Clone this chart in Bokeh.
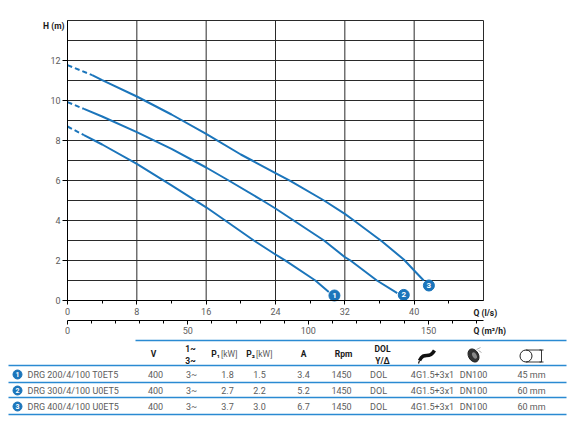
from bokeh.plotting import figure
from bokeh.models import Range1d, LinearAxis, FixedTicker, ColumnDataSource
from bokeh.core.properties import value
from bokeh.embed import file_html
from bokeh.resources import INLINE

# ---------------- data ----------------
q1 = [0, 1.9, 4, 8, 12, 16, 18.2, 21.5, 24, 25.2, 28.6, 30.15]
h1 = [8.7, 8.27, 7.8, 6.83, 5.76, 4.66, 4.0, 3.0, 2.3, 1.98, 1.0, 0.42]
q2 = [0, 1.9, 4, 8, 12, 16, 18.6, 22.5, 24, 26.1, 29.6, 32, 32.65, 35.7, 38.05]
h2 = [9.92, 9.58, 9.2, 8.42, 7.58, 6.65, 6.0, 5.0, 4.6, 4.0, 3.0, 2.17, 2.0, 1.0, 0.37]
q3 = [0, 2.85, 4, 8, 12, 16, 20, 21.3, 24, 25.7, 29.6, 32, 33.05, 36.3, 38.8, 40, 41.1]
h3 = [11.77, 11.27, 11.02, 10.2, 9.3, 8.33, 7.3, 7.0, 6.37, 5.98, 5.0, 4.33, 4.0, 2.95, 2.05, 1.5, 1.0]
dash_until = [1.9, 1.9, 2.85]

marker_q = [30.8, 38.8, 41.7]
marker_h = [0.25, 0.28, 0.75]
marker_txt = ["1", "2", "3"]

q_max = 48
h_max = 14
y_ticks = [0, 2, 4, 6, 8, 10, 12]
x_ticks = [0, 8, 16, 24, 32, 40]
x_minor = [4, 12, 20, 28, 36, 44]
grid_q = [0, 8, 16, 24, 32, 40, 48]
grid_h = list(range(15))
m3h_ticks = [0, 50, 100, 150]
m3h_minor = [10, 20, 30, 40, 60, 70, 80, 90, 110, 120, 130, 140, 160, 170]
LS_TO_M3H = 3.6

models = ["DRG 200/4/100 T0ET5", "DRG 300/4/100 U0ET5", "DRG 400/4/100 U0ET5"]
volts = ["400", "400", "400"]
phase = ["3~", "3~", "3~"]
p1 = ["1.8", "2.7", "3.7"]
p2 = ["1.5", "2.2", "3.0"]
amps = ["3.4", "5.2", "6.7"]
rpm = ["1450", "1450", "1450"]
start = ["DOL", "DOL", "DOL"]
cable = ["4G1.5+3x1", "4G1.5+3x1", "4G1.5+3x1"]
outlet = ["DN100", "DN100", "DN100"]
passage = ["45 mm", "60 mm", "60 mm"]

# ---------------- style / layout ----------------
FONT = "Roboto"
BLUE = "#1b75bb"
TBLUE = "#2a8ad2"
GRID = "#2a2a2a"
GREY = "#5c5c5c"
DARK = "#1a1a1a"

W, H = 567, 423
PX_X = 416 / 48.0      # pixels per l/s
PX_Y = 20.0            # pixels per m
X0_PX, Y0_PX = 67, 300  # pixel position of origin


def px2x(px):
    return (px - X0_PX) / PX_X


def px2y(py):
    return (Y0_PX - py) / PX_Y


p = figure(width=W, height=H, x_range=Range1d(px2x(0), px2x(W)), y_range=Range1d(px2y(H), px2y(0)),
           output_backend="svg", toolbar_location=None, x_axis_type=None, y_axis_type=None,
           min_border=0)
p.title.visible = False
p.outline_line_color = None
p.background_fill_color = "white"
p.border_fill_color = "white"

# grid (drawn from the tick positions)
p.segment(x0=grid_q, y0=[0] * len(grid_q), x1=grid_q, y1=[h_max] * len(grid_q),
          line_color=GRID, line_width=1)
p.segment(x0=[0] * len(grid_h), y0=grid_h, x1=[q_max] * len(grid_h), y1=grid_h,
          line_color=GRID, line_width=1)

# axes
ya = LinearAxis(ticker=FixedTicker(ticks=y_ticks), fixed_location=0, bounds=(0, h_max))
ya.axis_line_color = "black"
ya.major_tick_out = 5
ya.major_tick_in = 0
ya.minor_tick_line_color = None
ya.major_label_standoff = 2
ya.major_label_text_font = FONT
ya.major_label_text_font_size = "9px"
ya.major_label_text_color = GREY
p.add_layout(ya, "left")

xa = LinearAxis(ticker=FixedTicker(ticks=x_ticks, minor_ticks=x_minor), fixed_location=0,
                bounds=(0, q_max))
xa.axis_line_color = "black"
xa.major_tick_out = 4
xa.major_tick_in = 0
xa.minor_tick_out = 3
xa.minor_tick_in = 0
xa.major_label_standoff = 3
xa.major_label_text_font = FONT
xa.major_label_text_font_size = "9px"
xa.major_label_text_color = GREY
p.add_layout(xa, "below")

p.extra_x_ranges = {"m3h": Range1d(px2x(0) * LS_TO_M3H, px2x(W) * LS_TO_M3H)}
xb = LinearAxis(x_range_name="m3h", ticker=FixedTicker(ticks=m3h_ticks, minor_ticks=m3h_minor),
                fixed_location=px2y(320), bounds=(0, q_max * LS_TO_M3H))
xb.axis_line_color = "black"
xb.major_tick_out = 4
xb.major_tick_in = 0
xb.minor_tick_out = 3
xb.minor_tick_in = 0
xb.major_label_standoff = 2
xb.major_label_text_font = FONT
xb.major_label_text_font_size = "9px"
xb.major_label_text_color = GREY
p.add_layout(xb, "below")

# curves
for qs, hs, d in zip([q1, q2, q3], [h1, h2, h3], dash_until):
    dq = [q for q in qs if q <= d]
    dh = [h for q, h in zip(qs, hs) if q <= d]
    sq = [q for q in qs if q >= d]
    sh = [h for q, h in zip(qs, hs) if q >= d]
    p.line(dq, dh, line_color=BLUE, line_width=2, line_dash="5 3")
    p.line(sq, sh, line_color=BLUE, line_width=2, line_join="round")

msrc = ColumnDataSource(dict(x=marker_q, y=marker_h, t=marker_txt))
p.scatter("x", "y", source=msrc, size=11, marker="circle", fill_color=BLUE, line_color=BLUE)
p.text("x", "y", text="t", source=msrc, text_color="white", text_font=value(FONT),
       text_font_size="8px", text_font_style="bold", text_align="center", text_baseline="middle")


def ptext(px, py, s, bold=False, size="9px", align="center", color=GREY):
    p.text(x=[px2x(px)], y=[px2y(py)], text=[s], text_font=value(FONT), text_font_size=size,
           text_font_style="bold" if bold else "normal", text_align=align,
           text_baseline="middle", text_color=color)


# axis titles
ptext(64, 25, "H (m)", bold=True, size="8.5px", align="right", color=DARK)
ptext(473, 312, "Q (l/s)", bold=True, size="8.5px", align="left", color=DARK)
ptext(473, 330, "Q (m³/h)", bold=True, size="8.5px", align="left", color=DARK)

# ---------------- table ----------------
p.segment(x0=[px2x(135)], y0=[px2y(340)], x1=[px2x(566)], y1=[px2y(340)],
          line_color=TBLUE, line_width=1.5)
sep_y = [365, 382, 397, 414]
p.segment(x0=[px2x(8)] * 4, y0=[px2y(v) for v in sep_y], x1=[px2x(566)] * 4,
          y1=[px2y(v) for v in sep_y], line_color=TBLUE, line_width=1.5)

HS = "8.5px"
ptext(153, 353, "V", bold=True, size=HS, color=DARK)
ptext(190, 348, "1~", bold=True, size=HS, color=DARK)
ptext(190, 360, "3~", bold=True, size=HS, color=DARK)
ptext(219.5, 353, "P₁", bold=True, size=HS, align="right", color=DARK)
ptext(220.5, 353, "[kW]", size=HS, align="left", color=GREY)
ptext(254.5, 353, "P₂", bold=True, size=HS, align="right", color=DARK)
ptext(255.5, 353, "[kW]", size=HS, align="left", color=GREY)
ptext(303, 353, "A", bold=True, size=HS, color=DARK)
ptext(343, 353, "Rpm", bold=True, size=HS, color=DARK)
ptext(382, 348, "DOL", bold=True, size=HS, color=DARK)
ptext(382, 360, "Y/Δ", bold=True, size=HS, color=DARK)

# icons
p.bezier(x0=[px2x(419)], y0=[px2y(360)], x1=[px2x(434)], y1=[px2y(350)],
         cx0=[px2x(424)], cy0=[px2y(350)], cx1=[px2x(428)], cy1=[px2y(360)],
         line_color="#111", line_width=3.5)
p.segment(x0=[px2x(419)], y0=[px2y(360)], x1=[px2x(418)], y1=[px2y(363)],
          line_color="#111", line_width=1.2)
p.ellipse(x=[px2x(473)], y=[px2y(355)], width=10, height=14, angle=0.5,
          width_units="screen", height_units="screen", fill_color="#333", line_color="#222")
p.ellipse(x=[px2x(474)], y=[px2y(355)], width=4, height=7, angle=0.5,
          width_units="screen", height_units="screen", fill_color="#888", line_color=None)
p.segment(x0=[px2x(476), px2x(478)], y0=[px2y(349), px2y(350)], x1=[px2x(480), px2x(481)],
          y1=[px2y(347), px2y(352)], line_color="#999", line_width=0.8)
p.scatter(x=[px2x(525.5)], y=[px2y(355.5)], size=12, marker="circle", fill_color=None,
          line_color="#222", line_width=1)
p.segment(x0=[px2x(525.5), px2x(525.5), px2x(541), px2x(539), px2x(539)],
          y0=[px2y(349.5), px2y(361.5), px2y(349.5), px2y(349.5), px2y(361.5)],
          x1=[px2x(541), px2x(541), px2x(541), px2x(543), px2x(543)],
          y1=[px2y(349.5), px2y(361.5), px2y(361.5), px2y(349.5), px2y(361.5)],
          line_color="#222", line_width=0.9)

# rows
row_py = [374, 390, 406]
row_y = [px2y(v) for v in row_py]
nsrc = ColumnDataSource(dict(x=[px2x(17)] * 3, y=row_y, t=marker_txt))
p.scatter("x", "y", source=nsrc, size=9, marker="circle", fill_color=BLUE, line_color=BLUE)
p.text("x", "y", text="t", source=nsrc, text_color="white", text_font=value(FONT),
       text_font_size="7px", text_font_style="bold", text_align="center", text_baseline="middle")

cols = [(27, models, "left"), (155, volts, "center"), (191, phase, "center"),
        (227, p1, "center"), (259, p2, "center"), (303, amps, "center"),
        (341, rpm, "center"), (378, start, "center"), (432, cable, "center"),
        (473, outlet, "center"), (531, passage, "center")]
for px, vals, al in cols:
    src = ColumnDataSource(dict(x=[px2x(px)] * len(vals), y=row_y, t=vals))
    p.text("x", "y", text="t", source=src, text_font=value(FONT), text_font_size="9px",
           text_color=GREY, text_align=al, text_baseline="middle")

open("out.html", "w").write(file_html(p, INLINE))
